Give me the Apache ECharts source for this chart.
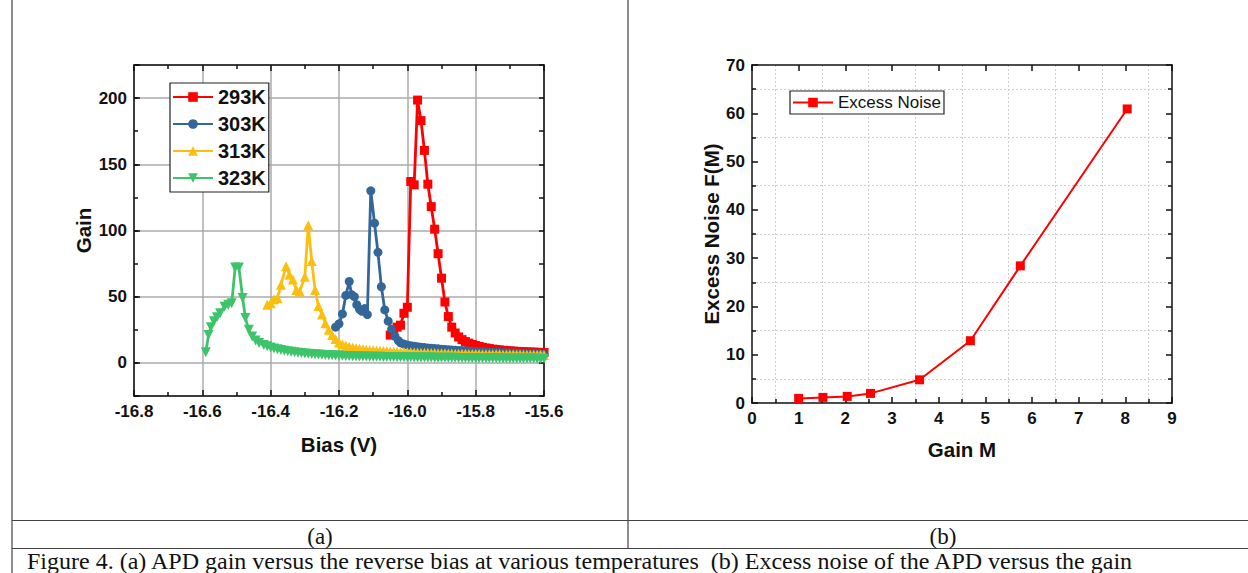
<!DOCTYPE html>
<html>
<head>
<meta charset="utf-8">
<script src="https://cdn.jsdelivr.net/npm/echarts@6/dist/echarts.min.js"></script>
<style>
html,body{margin:0;padding:0;background:#fff;}
#main{width:1248px;height:573px;}
</style>
</head>
<body>
<div id="main"></div>
<script>
// ---------- Data: panel (a) gain vs bias ----------
const seriesNames = ['293K', '303K', '313K', '323K'];

const bias293 = [-16.05,-16.04,-16.03,-16.02,-16.01,-16.00,-15.99,-15.98,-15.97,-15.96,-15.95,-15.94,-15.93,-15.92,-15.91,-15.90,-15.89,-15.88,-15.87,-15.86,-15.85,-15.84,-15.83,-15.82,-15.81,-15.80,-15.79,-15.78,-15.77,-15.76,-15.75,-15.74,-15.73,-15.72,-15.71,-15.70,-15.69,-15.68,-15.67,-15.66,-15.65,-15.64,-15.63,-15.62,-15.61,-15.60];
const gain293 = [21,24.5,27,28.5,37.5,42,137,134.5,198.5,183,160.5,135,118,101,82.5,64,46,35,27,22.6,19.6,17.6,16.1,14.9,13.9,13.1,12.4,11.8,11.3,10.8,10.4,10.1,9.8,9.5,9.3,9.1,8.9,8.7,8.6,8.4,8.3,8.2,8.1,8.0,7.9,7.8];

const bias303 = [-16.21,-16.20,-16.19,-16.18,-16.17,-16.163,-16.155,-16.148,-16.14,-16.133,-16.125,-16.117,-16.107,-16.096,-16.086,-16.076,-16.066,-16.056,-16.046,-16.036,-16.026,-16.02,-16.01,-16.00,-15.99,-15.98,-15.97,-15.96,-15.95,-15.94,-15.93,-15.92,-15.91,-15.90,-15.89,-15.88,-15.87,-15.86,-15.85,-15.84,-15.83,-15.82,-15.81,-15.80,-15.79,-15.78,-15.77,-15.76,-15.75,-15.74,-15.73,-15.72,-15.71,-15.70,-15.69,-15.68,-15.67,-15.66,-15.65,-15.64,-15.63,-15.62,-15.61,-15.60];
const gain303 = [27,29.5,37,51,61.5,51.5,50,44,40.5,39,41,36.5,130,105.5,83.5,57.5,40,31.5,25.5,20,16.8,15.2,14.2,13.5,13.0,12.6,12.2,11.9,11.6,11.3,11.0,10.8,10.6,10.4,10.2,10.0,9.8,9.6,9.4,9.3,9.1,9.0,8.8,8.7,8.5,8.4,8.3,8.1,8.0,7.9,7.8,7.7,7.6,7.5,7.4,7.3,7.2,7.1,7.0,6.9,6.8,6.7,6.6,6.5];

const bias313 = [-16.41,-16.40,-16.39,-16.38,-16.37,-16.355,-16.345,-16.335,-16.325,-16.315,-16.30,-16.29,-16.28,-16.27,-16.26,-16.25,-16.24,-16.23,-16.22,-16.21,-16.20,-16.19,-16.18,-16.17,-16.16,-16.15,-16.14,-16.13,-16.12,-16.11,-16.10,-16.09,-16.08,-16.07,-16.06,-16.05,-16.04,-16.03,-16.02,-16.01,-16.00,-15.99,-15.98,-15.97,-15.96,-15.95,-15.94,-15.93,-15.92,-15.91,-15.90,-15.89,-15.88,-15.87,-15.86,-15.85,-15.84,-15.83,-15.82,-15.81,-15.80,-15.79,-15.78,-15.77,-15.76,-15.75,-15.74,-15.73,-15.72,-15.71,-15.70,-15.69,-15.68,-15.67,-15.66,-15.65,-15.64,-15.63,-15.62,-15.61,-15.60];
const gain313 = [44,45,48,49,59,73,66.5,63,55,54,65,104,77,55,43,36.5,30,25,21,18,15.5,14,13,12.2,11.6,11.1,10.7,10.3,10.0,9.8,9.6,9.4,9.2,9.0,8.8,8.7,8.5,8.4,8.3,8.2,8.1,8.0,7.9,7.8,7.7,7.6,7.6,7.5,7.4,7.3,7.3,7.2,7.1,7.1,7.0,7.0,6.9,6.9,6.8,6.8,6.7,6.7,6.6,6.6,6.6,6.5,6.5,6.5,6.4,6.4,6.4,6.3,6.3,6.3,6.2,6.2,6.2,6.1,6.1,6.1,6.0];

const bias323 = [-16.59,-16.582,-16.575,-16.566,-16.557,-16.548,-16.535,-16.524,-16.514,-16.504,-16.493,-16.482,-16.474,-16.464,-16.454,-16.444,-16.434,-16.42,-16.41,-16.40,-16.39,-16.38,-16.37,-16.36,-16.35,-16.34,-16.33,-16.32,-16.31,-16.30,-16.29,-16.28,-16.27,-16.26,-16.25,-16.24,-16.23,-16.22,-16.21,-16.20,-16.19,-16.18,-16.17,-16.16,-16.15,-16.14,-16.13,-16.12,-16.11,-16.10,-16.09,-16.08,-16.07,-16.06,-16.05,-16.04,-16.03,-16.02,-16.01,-16.00,-15.99,-15.98,-15.97,-15.96,-15.95,-15.94,-15.93,-15.92,-15.91,-15.90,-15.89,-15.88,-15.87,-15.86,-15.85,-15.84,-15.83,-15.82,-15.81,-15.80,-15.79,-15.78,-15.77,-15.76,-15.75,-15.74,-15.73,-15.72,-15.71,-15.70,-15.69,-15.68,-15.67,-15.66,-15.65,-15.64,-15.63,-15.62,-15.61,-15.60];
const gain323 = [8,21,27,31.5,34.5,37.5,42.5,44,45,72,72,49,34,25,20,17,15,13.6,12.5,11.6,10.9,10.3,9.7,9.2,8.8,8.4,8.0,7.7,7.4,7.1,6.9,6.7,6.5,6.3,6.1,6.0,5.8,5.7,5.6,5.5,5.4,5.3,5.2,5.1,5.0,4.9,4.9,4.8,4.7,4.7,4.6,4.6,4.5,4.5,4.4,4.4,4.3,4.3,4.2,4.2,4.2,4.1,4.1,4.1,4.0,4.0,4.0,3.9,3.9,3.9,3.8,3.8,3.8,3.8,3.7,3.7,3.7,3.7,3.6,3.6,3.6,3.6,3.5,3.5,3.5,3.5,3.5,3.4,3.4,3.4,3.4,3.4,3.3,3.3,3.3,3.3,3.3,3.2,3.2,3.2];

// ---------- Data: panel (b) excess noise vs gain ----------
const gainM = [1.0, 1.52, 2.04, 2.54, 3.59, 4.68, 5.75, 8.04];
const excessNoise = [0.95, 1.16, 1.37, 1.99, 4.8, 12.9, 28.4, 60.9];

// ---------- Text ----------
const captionA = '(a)';
const captionB = '(b)';
const figCaption = 'Figure 4. (a) APD gain versus the reverse bias at various temperatures  (b) Excess noise of the APD versus the gain';

const zip = (xs, ys) => xs.map((x, i) => [x, ys[i]]);

const FONT = '"Liberation Sans", Arial, sans-serif';
const SERIF = '"Liberation Serif", "Times New Roman", serif';
const axisLine = {show: true, onZero: false, lineStyle: {color: '#111', width: 1.5}};
const lbl = {fontFamily: FONT, fontWeight: 'bold', fontSize: 17, color: '#111'};
const nameStyle = {fontFamily: FONT, fontWeight: 'bold', fontSize: 20.5, color: '#111'};

const colors = ['#ff0000', '#336699', '#fdbf0f', '#3dc46a'];
const biasSets = [bias293, bias303, bias313, bias323];
const gainSets = [gain293, gain303, gain313, gain323];
const symbols = ['rect', 'circle', 'triangle', 'triangle'];
const rotates = [0, 0, 0, 180];
const sizes = [9, 9, 10, 10];

const seriesA = seriesNames.map((n, i) => ({
  name: n, type: 'line', xAxisIndex: 0, yAxisIndex: 0,
  data: zip(biasSets[i], gainSets[i]),
  symbol: symbols[i], symbolSize: sizes[i], symbolRotate: rotates[i],
  showAllSymbol: true,
  lineStyle: {color: colors[i], width: 2.8},
  itemStyle: {color: colors[i]},
  emphasis: {disabled: true},
  animation: false
}));

const chart = echarts.init(document.getElementById('main'), null, {renderer: 'svg', width: 1248, height: 573});

const option = {
  animation: false,
  textStyle: {fontFamily: FONT},
  grid: [
    {left: 134, top: 65, width: 410, height: 331},
    {left: 752, top: 65, width: 420, height: 338}
  ],
  xAxis: [
    { // 0: bias bottom
      type: 'value', gridIndex: 0, min: -16.8, max: -15.6, interval: 0.2,
      axisLine: axisLine,
      axisTick: {show: true, inside: true, length: 6, lineStyle: {color: '#111', width: 1.5}},
      minorTick: {show: true, splitNumber: 2, length: 4, lineStyle: {color: '#111', width: 1.5}},
      splitLine: {show: true, lineStyle: {color: '#ababab', width: 1.5}},
      axisLabel: Object.assign({margin: 7, formatter: v => v.toFixed(1)}, lbl),
      name: 'Bias (V)', nameLocation: 'middle', nameGap: 38, nameTextStyle: nameStyle
    },
    { // 1: bias top
      type: 'value', gridIndex: 0, position: 'top', min: -16.8, max: -15.6, interval: 0.2,
      axisLine: axisLine,
      axisTick: {show: true, inside: true, length: 6, lineStyle: {color: '#111', width: 1.5}},
      minorTick: {show: true, splitNumber: 2, length: 4, lineStyle: {color: '#111', width: 1.5}},
      splitLine: {show: false}, axisLabel: {show: false}
    },
    { // 2: gain M bottom
      type: 'value', gridIndex: 1, min: 0, max: 9, interval: 1,
      axisLine: axisLine,
      axisTick: {show: true, inside: true, length: 6, lineStyle: {color: '#111', width: 1.5}},
      minorTick: {show: true, splitNumber: 2, length: 4, lineStyle: {color: '#111', width: 1.5}},
      splitLine: {show: false},
      minorSplitLine: {show: true, lineStyle: {color: '#cfcfcf', width: 1, type: [2, 2]}},
      axisLabel: Object.assign({margin: 7}, lbl),
      name: 'Gain M', nameLocation: 'middle', nameGap: 36, nameTextStyle: nameStyle
    },
    { // 3: gain M top
      type: 'value', gridIndex: 1, position: 'top', min: 0, max: 9, interval: 1,
      axisLine: axisLine,
      axisTick: {show: true, inside: true, length: 6, lineStyle: {color: '#111', width: 1.5}},
      splitLine: {show: false}, axisLabel: {show: false}
    }
  ],
  yAxis: [
    { // 0: gain left (labels, grid at 50s)
      type: 'value', gridIndex: 0, min: -25, max: 225, splitNumber: 5,
      axisLine: axisLine,
      axisTick: {show: true, inside: true, length: 6, lineStyle: {color: '#111', width: 1.5}},
      splitLine: {show: true, lineStyle: {color: '#ababab', width: 1.5}},
      axisLabel: Object.assign({margin: 7, formatter: v => (v === -25 || v === 225) ? '' : String(v)}, lbl),
      name: 'Gain', nameLocation: 'middle', nameGap: 40, nameTextStyle: nameStyle
    },
    { // 1: gain left minor ticks every 25
      type: 'value', gridIndex: 0, position: 'left', min: -25, max: 225, interval: 25,
      axisLine: {show: false},
      axisTick: {show: true, inside: true, length: 4, lineStyle: {color: '#111', width: 1.5}},
      splitLine: {show: false}, axisLabel: {show: false}
    },
    { // 2: gain right ticks every 25
      type: 'value', gridIndex: 0, position: 'right', min: -25, max: 225, interval: 25,
      axisLine: axisLine,
      axisTick: {show: true, inside: true, length: 5, lineStyle: {color: '#111', width: 1.5}},
      splitLine: {show: false}, axisLabel: {show: false}
    },
    { // 3: excess noise left
      type: 'value', gridIndex: 1, min: 0, max: 70, interval: 10,
      axisLine: axisLine,
      axisTick: {show: true, inside: true, length: 6, lineStyle: {color: '#111', width: 1.5}},
      minorTick: {show: true, splitNumber: 2, length: 4, lineStyle: {color: '#111', width: 1.5}},
      splitLine: {show: false},
      minorSplitLine: {show: true, lineStyle: {color: '#cfcfcf', width: 1, type: [2, 2]}},
      axisLabel: Object.assign({margin: 7}, lbl),
      name: 'Excess Noise F(M)', nameLocation: 'middle', nameGap: 30, nameTextStyle: nameStyle
    },
    { // 4: excess noise right
      type: 'value', gridIndex: 1, position: 'right', min: 0, max: 70, interval: 10,
      axisLine: axisLine,
      axisTick: {show: true, inside: true, length: 6, lineStyle: {color: '#111', width: 1.5}},
      minorTick: {show: true, splitNumber: 2, length: 4, lineStyle: {color: '#111', width: 1.5}},
      splitLine: {show: false}, axisLabel: {show: false}
    }
  ],
  legend: [
    {
      data: seriesNames, orient: 'vertical', left: 170, top: 83,
      itemWidth: 40, itemHeight: 12, itemGap: 7,
      padding: [4, 3, 4, 2],
      borderColor: '#222', borderWidth: 1.2, backgroundColor: '#fff',
      textStyle: {fontFamily: FONT, fontWeight: 'bold', fontSize: 20, color: '#111'},
      selectedMode: false
    },
    {
      data: ['Excess Noise'], orient: 'vertical', left: 790, top: 91,
      itemWidth: 40, itemHeight: 12, itemGap: 4,
      padding: [3, 3, 3, 2],
      borderColor: '#222', borderWidth: 1.2, backgroundColor: '#fff',
      textStyle: {fontFamily: FONT, fontSize: 17, color: '#111'},
      selectedMode: false
    }
  ],
  series: seriesA.concat([{
    name: 'Excess Noise', type: 'line', xAxisIndex: 2, yAxisIndex: 3,
    data: zip(gainM, excessNoise),
    symbol: 'rect', symbolSize: 9,
    lineStyle: {color: '#ff0000', width: 2},
    itemStyle: {color: '#ff0000'},
    emphasis: {disabled: true}
  }]),
  graphic: [
    {type: 'line', shape: {x1: 12, y1: 0, x2: 12, y2: 573}, style: {stroke: '#444', lineWidth: 1.2}},
    {type: 'line', shape: {x1: 628, y1: 0, x2: 628, y2: 548.5}, style: {stroke: '#444', lineWidth: 1.2}},
    {type: 'line', shape: {x1: 12, y1: 520.5, x2: 1248, y2: 520.5}, style: {stroke: '#444', lineWidth: 1.2}},
    {type: 'line', shape: {x1: 12, y1: 548.5, x2: 1248, y2: 548.5}, style: {stroke: '#444', lineWidth: 1.2}},
    {type: 'text', x: 320, y: 536, style: {text: captionA, font: '23px ' + SERIF, fill: '#111', textAlign: 'center', textVerticalAlign: 'middle'}},
    {type: 'text', x: 943, y: 536, style: {text: captionB, font: '23px ' + SERIF, fill: '#111', textAlign: 'center', textVerticalAlign: 'middle'}},
    {type: 'text', x: 27, y: 560.5, style: {text: figCaption, font: '24px ' + SERIF, fill: '#111', textAlign: 'left', textVerticalAlign: 'middle'}}
  ]
};
chart.setOption(option);
</script>
</body>
</html>
